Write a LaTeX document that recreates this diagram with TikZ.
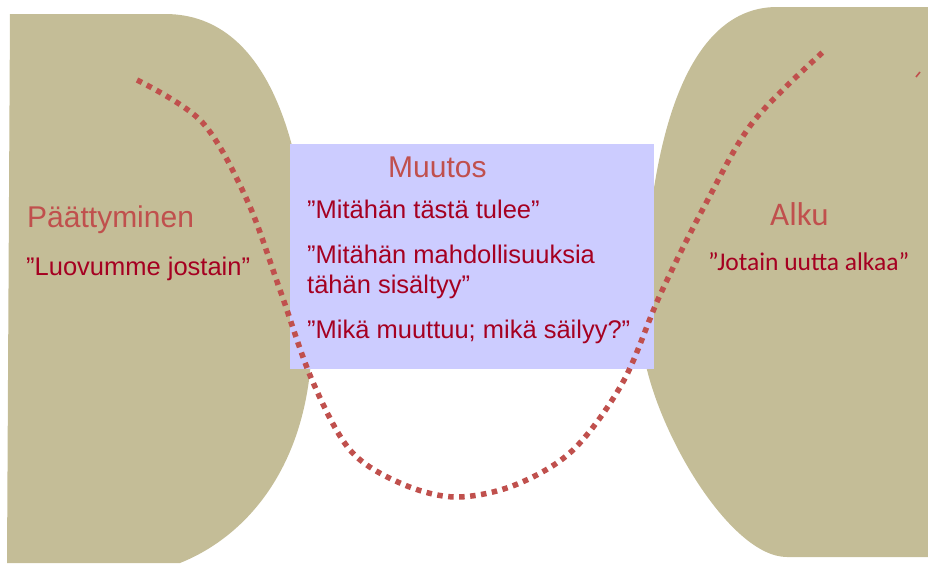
\documentclass[tikz,border=0pt]{standalone}
\usepackage{fontspec}
\setmainfont{Liberation Sans}
\newfontfamily\calibrilike{Carlito}
\definecolor{tanfill}{HTML}{C4BD97}
\definecolor{lilac}{HTML}{CCCCFF}
\definecolor{headred}{HTML}{C0504D}
\definecolor{bodyred}{HTML}{A50021}
\tikzset{
  phase/.style={fill=tanfill, draw=none},
  changebox/.style={fill=lilac, draw=none},
  heading/.style={inner sep=0pt, anchor=base west, text=headred, font=\fontsize{30pt}{36pt}\selectfont},
  quote/.style={inner sep=0pt, anchor=base west, text=bodyred, font=\fontsize{25.5pt}{30pt}\selectfont},
  pathline/.style={draw=headred, line width=5.5pt, line cap=butt, dash pattern=on 5.5pt off 5.5pt},
}
\begin{document}
\begin{tikzpicture}[x=1pt, y=-1pt]
  \useasboundingbox (0,0) rectangle (928,563);
  \begin{scope}
    \clip (0,0) rectangle (928,563);
    % ending phase (left)
    \path[phase] (10,14) -- (165,14)
      .. controls (275,14) and (312,160) .. (312,330)
      .. controls (313,460) and (250,535) .. (180,563)
      -- (7,563) -- cycle;
    % beginning phase (right)
    \path[phase] (928,7) -- (777,7)
      .. controls (688,7) and (643,135) .. (643,350)
      .. controls (655,430) and (730,557) .. (787,557)
      -- (928,557) -- cycle;
  \end{scope}
  % transition box
  \path[changebox] (290,144) rectangle (654,369);

  % dotted transition curve
  \draw[pathline] plot[smooth, tension=0.55] coordinates {
    (137,80) (202,122) (247,200) (280,290) (312,380) (350,450)
    (400,483) (455,497) (515,485) (573,450) (623,382) (660,295)
    (705,205) (753,122) (823,52)};
  \draw[headred, line width=1.6pt] (916,77) -- (920,72);

  % left labels
  \node[heading] (end) at (27,227) {Päättyminen};
  \node[quote] (endq) at (26,275) {”Luovumme jostain”};

  % middle labels
  \node[heading] (change) at (388,177) {Muutos};
  \node[quote] (q1) at (307,218) {”Mitähän tästä tulee”};
  \node[quote] (q2) at (307,263) {”Mitähän mahdollisuuksia};
  \node[quote] (q3) at (307,293) {tähän sisältyy”};
  \node[quote] (q4) at (307,338) {”Mikä muuttuu; mikä säilyy?”};

  % right labels
  \node[heading, font=\calibrilike\fontsize{33pt}{38pt}\selectfont] (start) at (770,225) {Alku};
  \node[quote, font=\calibrilike\fontsize{25.5pt}{30pt}\selectfont] (startq) at (708,270) {”Jotain uutta alkaa”};
\end{tikzpicture}
\end{document}
